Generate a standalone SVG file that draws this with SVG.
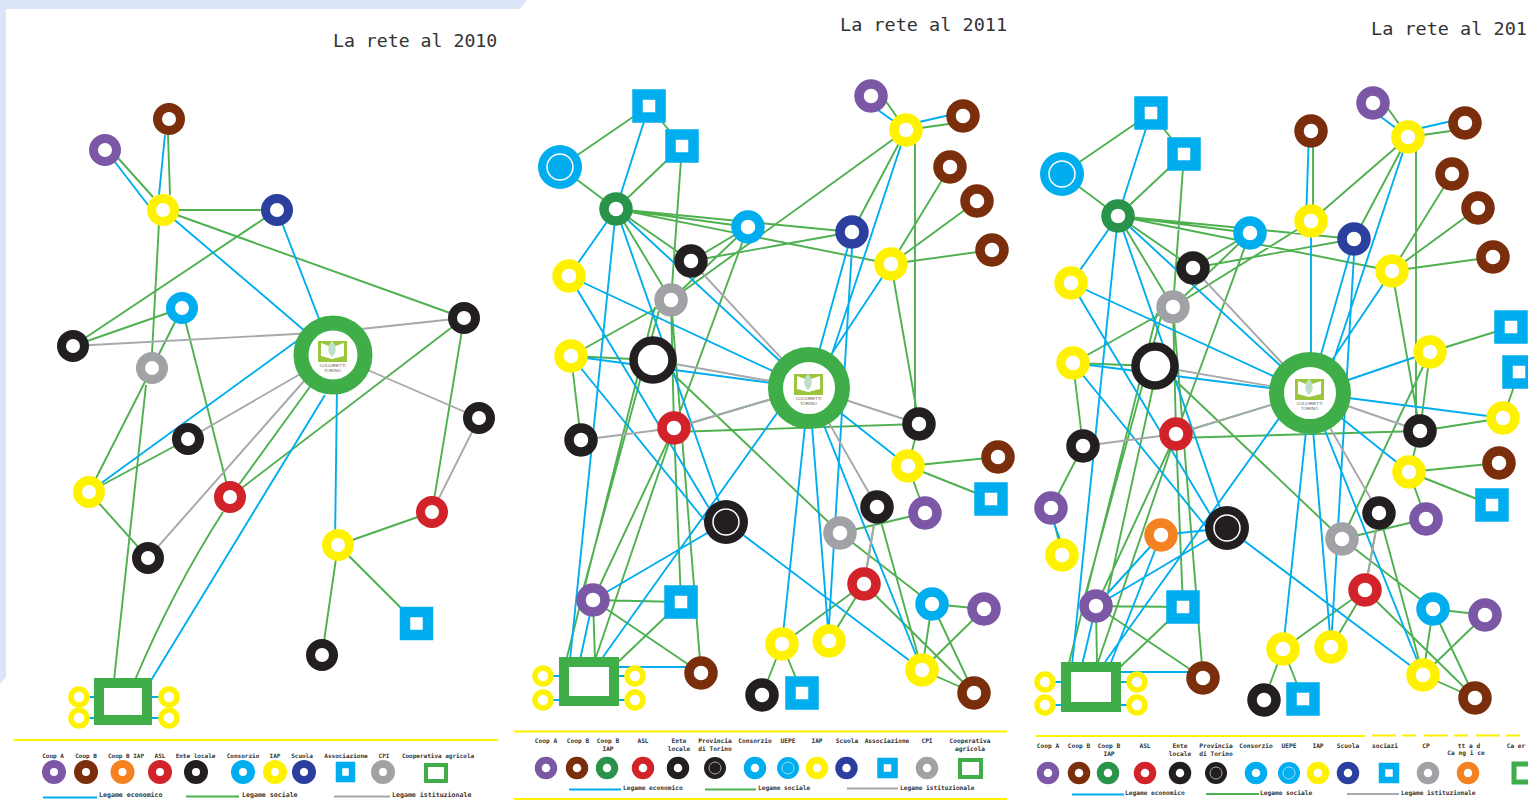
<svg xmlns="http://www.w3.org/2000/svg" xmlns:xlink="http://www.w3.org/1999/xlink" width="1528" height="800" viewBox="0 0 1528 800">
<style>
.g,.b,.h{fill:none;stroke-width:1.9}
.g{stroke:#4fb050}.b{stroke:#00aeef}.h{stroke:#a6a8ab}
.r{fill:#fff;stroke-width:9}
.w{stroke-width:9.5}
.q{stroke-width:8}
.q2{stroke-width:7}
.pu{stroke:#7b57a5}.br{stroke:#7a2e0b}.or{stroke:#f58220}.re{stroke:#d2232a}.bk{stroke:#231f20}.cy{stroke:#00aeef}.ye{stroke:#fff200}.bl{stroke:#2b3f9e}.gy{stroke:#a0a2a5}.di{stroke:#2a934a}
.s{fill:#fff;stroke:#00aeef;stroke-width:10.5}
.s2{fill:#fff;stroke:#00aeef;stroke-width:6.500}
.c{fill:#fff;stroke:#3fae49;stroke-width:10}
.c2{fill:#fff;stroke:#3fae49;stroke-width:4}
.m{fill:#fff;stroke:#fff200;stroke-width:5.5}
.t{font-family:"DejaVu Sans Mono","Liberation Mono",monospace;fill:#333;font-size:18.5px}
.t1{font-size:18.2px}
.l,.e{font-family:"DejaVu Sans Mono","Liberation Mono",monospace;fill:#333;font-size:6.2px;font-weight:bold}
.l{text-anchor:middle}
.l1{font-size:6px}
.e1{font-size:6.6px}
.y{stroke:#fff200;stroke-width:1.8;fill:none}
.k{font-family:"Liberation Sans",sans-serif;font-size:4.4px;fill:#555;text-anchor:middle}
</style>
<defs>
<g id="logo">
<rect x="-15" y="-14" width="29" height="21" fill="#9bc53d"/>
<path d="M-12 -12 L-4 -9 L-1 -14 L2 -9 L11 -12 L11 1 L-1 4 L-12 1Z" fill="#fff"/>
<path d="M-1 -14 C-6 -9 -6 -2 -1 2 C4 -2 4 -9 -1 -14Z" fill="#bfe0c8"/>
<text class="k" x="-0.500" y="11.500">COLDIRETTI</text>
<text class="k" x="-0.500" y="17">TORINO</text>
</g>
</defs>
<rect width="1528" height="800" fill="#fff"/>
<path d="M0 0H527L520 9H6V677L0 684Z" fill="#dae6f8"/>
<text class="t t1" x="333" y="47">La rete al 2010</text>
<text class="t" x="840" y="31">La rete al 2011</text>
<text class="t" x="1371" y="35">La rete al 201</text>

<g id="connectors-2010">
<path class="g" d="M118 158L153 197M168 135L170 195M163 210L277 210M163 210L464 318M277 210L73 346M182 308L73 346M182 308L152 368M182 308L230 497M159 223L152 353M152 368L89 492M146 385L114 680M188 439L89 492M89 492L148 558M333 355L230 497M464 318L230 497M464 318L432 512M338 545L432 512M338 545L322 655M338 545L416 623"/>
<path class="g" d="M223 512Q173 590 135 680"/>
<path class="b" d="M115 162L148 205M165 135L159 195M163 210L333 355M277 210L333 355M305 335L89 492M325 395L150 682M337 385L335 545M79 697H169M79 718H169"/>
<path class="h" d="M73 346L333 332M333 332L464 318M333 355L479 418M333 355L188 439M312 372L148 558M479 418L432 512"/>
</g>
<g id="nodes-2010">
<g id="a1"><circle class="r br" cx="169" cy="119" r="11.500"/></g>
<g id="a2"><circle class="r pu" cx="105" cy="150" r="11.500"/></g>
<g id="a3"><circle class="r ye" cx="163" cy="210" r="11.500"/></g>
<g id="a4"><circle class="r bl" cx="277" cy="210" r="11.500"/></g>
<g id="a5"><circle class="r cy" cx="182" cy="308" r="11.500"/></g>
<g id="a6"><circle class="r bk" cx="73" cy="346" r="11.500"/></g>
<g id="a7"><circle class="r gy" cx="152" cy="368" r="11.500"/></g>
<g id="a8"><circle class="r bk" cx="464" cy="318" r="11.500"/></g>
<g id="a9"><circle class="r bk" cx="479" cy="418" r="11.500"/></g>
<g id="a10"><circle class="r bk" cx="188" cy="439" r="11.500"/></g>
<g id="a11"><circle class="r ye" cx="89" cy="492" r="11.500"/></g>
<g id="a12"><circle class="r re" cx="230" cy="497" r="11.500"/></g>
<g id="a13"><circle class="r bk" cx="148" cy="558" r="11.500"/></g>
<g id="a14"><circle class="r ye" cx="338" cy="545" r="11.500"/></g>
<g id="a15"><circle class="r re" cx="432" cy="512" r="11.500"/></g>
<g id="a16"><rect class="s" x="405" y="612" width="23" height="23"/></g>
<g id="a17"><circle class="r bk" cx="322" cy="655" r="11.500"/></g>
<g id="a18"><circle cx="333" cy="355" r="32" fill="#fff" stroke="#3fae49" stroke-width="15"/><use xlink:href="#logo" href="#logo" x="333" y="355"/></g>
<g id="a19"><rect class="c" x="99" y="683" width="48" height="37"/></g>
<g id="a20"><circle class="m" cx="79" cy="697" r="8"/></g>
<g id="a21"><circle class="m" cx="79" cy="718" r="8"/></g>
<g id="a22"><circle class="m" cx="169" cy="697" r="8"/></g>
<g id="a23"><circle class="m" cx="169" cy="718" r="8"/></g>
</g>

<g id="connectors-2011">
<path class="g" d="M560 167L649 106M560 167L616 209M649 106L682 146M682 146L616 209M682 146L671 300M616 209L748 227M616 209L852 232M616 209L691 261M616 209L671 300M616 209L891 264M691 261L748 227M671 300L748 227M691 261L852 232M906 130L671 300M748 227L674 428M906 130L852 232M950 167L891 264M977 201L891 264M992 250L891 264M915 140L915 424M891 264L919 424M919 424L908 466M908 466L998 457M908 466L991 499M908 466L925 513M571 356L671 300M571 356L653 360M571 356L581 440M660 307L583 590M655 307L567 657M671 300L674 428M671 300L701 673M674 428L681 602M674 428L593 600M674 428L595 660M809 388L674 428M674 432L919 424M653 355L840 533M840 533L925 513M840 533L932 604M864 584L782 644M864 584L829 641M864 584L974 693M877 507L864 584M877 507L922 670M932 604L984 609M932 604L922 670M932 604L974 693M984 609L922 670M922 670L974 693M782 644L762 695M782 644L802 693M593 600L681 602M593 600L701 673M593 600L595 660M681 602L615 665M878 90L906 130M906 130L963 122"/>
<path class="b" d="M649 106L616 209M616 209L569 276M616 209L570 660M616 209L726 522M616 209L809 388M569 276L809 388M569 276L712 513M571 356L809 388M571 356L706 522M790 395L603 657M726 522L593 600M726 522L922 670M593 600L580 660M852 232L809 388M852 248L828 641M906 130L830 360M891 264L809 388M809 388L782 644M809 388L829 641M809 388L908 466M809 388L922 670M606 667H701M871 105L906 130M906 125L963 112M543 676H635M543 700H635"/>
<path class="h" d="M691 261L809 388M653 360L809 388M581 440L674 428M674 428L809 388M809 388L919 424M809 388L877 507M877 507L864 584"/>
</g>
<g id="nodes-2011">
<g id="b1"><rect class="s" x="637.500" y="94.500" width="23" height="23"/></g>
<g id="b2"><rect class="s" x="670.500" y="134.500" width="23" height="23"/></g>
<g id="b3"><circle cx="560" cy="167" r="22" fill="#00aeef"/><circle cx="560" cy="167" r="13" fill="none" stroke="#fff" stroke-width="1.500"/></g>
<g id="b4"><circle class="r w di" cx="616" cy="209" r="12"/></g>
<g id="b5"><circle class="r w ye" cx="569" cy="276" r="12"/></g>
<g id="b6"><circle class="r w cy" cx="748" cy="227" r="12"/></g>
<g id="b7"><circle class="r w bk" cx="691" cy="261" r="12"/></g>
<g id="b8"><circle class="r w gy" cx="671" cy="300" r="12"/></g>
<g id="b9"><circle class="r w bl" cx="852" cy="232" r="12"/></g>
<g id="b10"><circle class="r w pu" cx="871" cy="96" r="12"/></g>
<g id="b11"><circle class="r w ye" cx="906" cy="130" r="12"/></g>
<g id="b12"><circle class="r w br" cx="963" cy="116" r="12"/></g>
<g id="b13"><circle class="r w br" cx="950" cy="167" r="12"/></g>
<g id="b14"><circle class="r w br" cx="977" cy="201" r="12"/></g>
<g id="b15"><circle class="r w br" cx="992" cy="250" r="12"/></g>
<g id="b16"><circle class="r w ye" cx="891" cy="264" r="12"/></g>
<g id="b17"><circle class="r w ye" cx="571" cy="356" r="12"/></g>
<g id="b18"><circle cx="653" cy="360" r="19.500" fill="#fff" stroke="#231f20" stroke-width="8.500"/></g>
<g id="b19"><circle class="r w bk" cx="581" cy="440" r="12"/></g>
<g id="b20"><circle class="r w re" cx="674" cy="428" r="12"/></g>
<g id="b21"><circle class="r w bk" cx="919" cy="424" r="12"/></g>
<g id="b22"><circle class="r w ye" cx="908" cy="466" r="12"/></g>
<g id="b23"><circle class="r w br" cx="998" cy="457" r="12"/></g>
<g id="b24"><rect class="s" x="979.500" y="487.500" width="23" height="23"/></g>
<g id="b25"><circle class="r w pu" cx="925" cy="513" r="12"/></g>
<g id="b26"><circle class="r w bk" cx="877" cy="507" r="12"/></g>
<g id="b27"><circle class="r w gy" cx="840" cy="533" r="12"/></g>
<g id="b28"><circle cx="726" cy="522" r="22" fill="#231f20"/><circle cx="726" cy="522" r="13" fill="none" stroke="#fff" stroke-width="1.500"/></g>
<g id="b29"><circle class="r w re" cx="864" cy="584" r="12"/></g>
<g id="b30"><circle class="r w pu" cx="593" cy="600" r="12"/></g>
<g id="b31"><rect class="s" x="669.500" y="590.500" width="23" height="23"/></g>
<g id="b32"><circle class="r w cy" cx="932" cy="604" r="12"/></g>
<g id="b33"><circle class="r w pu" cx="984" cy="609" r="12"/></g>
<g id="b34"><circle class="r w ye" cx="782" cy="644" r="12"/></g>
<g id="b35"><circle class="r w ye" cx="829" cy="641" r="12"/></g>
<g id="b36"><circle class="r w ye" cx="922" cy="670" r="12"/></g>
<g id="b37"><circle class="r w br" cx="974" cy="693" r="12"/></g>
<g id="b38"><circle class="r w bk" cx="762" cy="695" r="12"/></g>
<g id="b39"><rect class="s" x="790.500" y="681.500" width="23" height="23"/></g>
<g id="b40"><circle class="r w br" cx="701" cy="673" r="12"/></g>
<g id="b41"><circle cx="809" cy="388" r="33.500" fill="#fff" stroke="#3fae49" stroke-width="15"/><use xlink:href="#logo" href="#logo" x="809" y="388"/></g>
<g id="b42"><rect class="c" x="564" y="662" width="50" height="39"/></g>
<g id="b43"><circle class="m" cx="543" cy="676" r="8"/></g>
<g id="b44"><circle class="m" cx="543" cy="700" r="8"/></g>
<g id="b45"><circle class="m" cx="635" cy="676" r="8"/></g>
<g id="b46"><circle class="m" cx="635" cy="700" r="8"/></g>
</g>

<g id="connectors-2012">
<path class="g" d="M1062 174L1151 113M1062 174L1118 216M1151 113L1184 154M1184 154L1118 216M1184 154L1173 307M1118 216L1250 233M1118 216L1354 239M1118 216L1193 268M1118 216L1173 307M1118 216L1392 271M1193 268L1250 233M1173 307L1250 233M1193 268L1354 239M1408 137L1311 221M1311 221L1173 307M1250 233L1176 434M1408 137L1354 239M1452 174L1392 271M1478 208L1392 271M1493 257L1392 271M1416 147L1416 431M1392 271L1420 431M1420 431L1409 472M1409 472L1499 463M1409 472L1492 505M1409 472L1426 519M1073 363L1173 307M1073 363L1155 366M1073 363L1083 446M1162 313L1085 596M1157 313L1069 663M1153 387L1108 592M1173 307L1176 434M1173 307L1203 678M1176 434L1183 607M1176 434L1096 606M1176 434L1097 665M1310 393L1176 434M1176 438L1420 431M1155 361L1342 539M1342 539L1426 519M1342 539L1433 609M1365 590L1283 649M1365 590L1331 647M1365 590L1475 698M1379 513L1365 590M1379 513L1423 675M1433 609L1485 615M1433 609L1423 675M1433 609L1475 698M1485 615L1423 675M1423 675L1475 698M1283 649L1264 700M1283 649L1303 699M1096 606L1183 607M1096 606L1203 678M1096 606L1097 665M1183 607L1117 670M1313 131L1313 221M1430 352L1511 327M1430 352L1420 431M1430 352L1342 539M1420 431L1503 418M1503 418L1519 372M1083 446L1051 508M1051 508L1062 555M1380 97L1408 137M1408 137L1465 129"/>
<path class="b" d="M1151 113L1118 216M1118 216L1071 283M1118 216L1072 665M1118 216L1227 528M1118 216L1310 393M1071 283L1310 393M1071 283L1213 519M1073 363L1310 393M1073 363L1207 528M1290 403L1105 662M1227 528L1096 606M1227 528L1423 675M1096 606L1082 665M1354 239L1310 393M1354 255L1331 647M1408 137L1332 365M1392 271L1310 393M1310 393L1283 649M1310 393L1331 647M1310 393L1409 472M1310 393L1423 675M1110 672H1203M1373 111L1408 137M1408 131L1465 118M1045 682H1137M1045 705H1137M1309 131L1306 221M1311 221L1311 393M1430 352L1310 393M1310 393L1503 418M1048 508L1066 555M1161 535L1227 528M1161 535L1096 606M1161 535L1110 665"/>
<path class="h" d="M1193 268L1310 393M1155 366L1310 393M1083 446L1176 434M1176 434L1310 393M1310 393L1420 431M1310 393L1379 513M1379 513L1365 590"/>
</g>
<g id="nodes-2012">
<g id="c1"><rect class="s" x="1139.500" y="101.500" width="23" height="23"/></g>
<g id="c2"><rect class="s" x="1172.500" y="142.500" width="23" height="23"/></g>
<g id="c3"><circle cx="1062" cy="174" r="22" fill="#00aeef"/><circle cx="1062" cy="174" r="13" fill="none" stroke="#fff" stroke-width="1.500"/></g>
<g id="c4"><circle class="r w di" cx="1118" cy="216" r="12"/></g>
<g id="c5"><circle class="r w ye" cx="1071" cy="283" r="12"/></g>
<g id="c6"><circle class="r w cy" cx="1250" cy="233" r="12"/></g>
<g id="c7"><circle class="r w bk" cx="1193" cy="268" r="12"/></g>
<g id="c8"><circle class="r w gy" cx="1173" cy="307" r="12"/></g>
<g id="c9"><circle class="r w bl" cx="1354" cy="239" r="12"/></g>
<g id="c10"><circle class="r w pu" cx="1373" cy="103" r="12"/></g>
<g id="c11"><circle class="r w ye" cx="1408" cy="137" r="12"/></g>
<g id="c12"><circle class="r w br" cx="1465" cy="123" r="12"/></g>
<g id="c13"><circle class="r w br" cx="1452" cy="174" r="12"/></g>
<g id="c14"><circle class="r w br" cx="1478" cy="208" r="12"/></g>
<g id="c15"><circle class="r w br" cx="1493" cy="257" r="12"/></g>
<g id="c16"><circle class="r w ye" cx="1392" cy="271" r="12"/></g>
<g id="c17"><circle class="r w ye" cx="1073" cy="363" r="12"/></g>
<g id="c18"><circle cx="1155" cy="366" r="19.500" fill="#fff" stroke="#231f20" stroke-width="8.500"/></g>
<g id="c19"><circle class="r w bk" cx="1083" cy="446" r="12"/></g>
<g id="c20"><circle class="r w re" cx="1176" cy="434" r="12"/></g>
<g id="c21"><circle class="r w bk" cx="1420" cy="431" r="12"/></g>
<g id="c22"><circle class="r w ye" cx="1409" cy="472" r="12"/></g>
<g id="c23"><circle class="r w br" cx="1499" cy="463" r="12"/></g>
<g id="c24"><rect class="s" x="1480.500" y="493.500" width="23" height="23"/></g>
<g id="c25"><circle class="r w pu" cx="1426" cy="519" r="12"/></g>
<g id="c26"><circle class="r w bk" cx="1379" cy="513" r="12"/></g>
<g id="c27"><circle class="r w gy" cx="1342" cy="539" r="12"/></g>
<g id="c28"><circle cx="1227" cy="528" r="22" fill="#231f20"/><circle cx="1227" cy="528" r="13" fill="none" stroke="#fff" stroke-width="1.500"/></g>
<g id="c29"><circle class="r w re" cx="1365" cy="590" r="12"/></g>
<g id="c30"><circle class="r w pu" cx="1096" cy="606" r="12"/></g>
<g id="c31"><rect class="s" x="1171.500" y="595.500" width="23" height="23"/></g>
<g id="c32"><circle class="r w cy" cx="1433" cy="609" r="12"/></g>
<g id="c33"><circle class="r w pu" cx="1485" cy="615" r="12"/></g>
<g id="c34"><circle class="r w ye" cx="1283" cy="649" r="12"/></g>
<g id="c35"><circle class="r w ye" cx="1331" cy="647" r="12"/></g>
<g id="c36"><circle class="r w ye" cx="1423" cy="675" r="12"/></g>
<g id="c37"><circle class="r w br" cx="1475" cy="698" r="12"/></g>
<g id="c38"><circle class="r w bk" cx="1264" cy="700" r="12"/></g>
<g id="c39"><rect class="s" x="1291.500" y="687.500" width="23" height="23"/></g>
<g id="c40"><circle class="r w br" cx="1203" cy="678" r="12"/></g>
<g id="c41"><circle class="r w br" cx="1311" cy="131" r="12"/></g>
<g id="c42"><circle class="r w ye" cx="1311" cy="221" r="12"/></g>
<g id="c43"><rect class="s" x="1499.500" y="315.500" width="23" height="23"/></g>
<g id="c44"><rect class="s" x="1507.500" y="360.500" width="23" height="23"/></g>
<g id="c45"><circle class="r w ye" cx="1430" cy="352" r="12"/></g>
<g id="c46"><circle class="r w ye" cx="1503" cy="418" r="12"/></g>
<g id="c47"><circle class="r w pu" cx="1051" cy="508" r="12"/></g>
<g id="c48"><circle class="r w ye" cx="1062" cy="555" r="12"/></g>
<g id="c49"><circle class="r w or" cx="1161" cy="535" r="12"/></g>
<g id="c50"><circle cx="1310" cy="393" r="33.500" fill="#fff" stroke="#3fae49" stroke-width="15"/><use xlink:href="#logo" href="#logo" x="1310" y="393"/></g>
<g id="c51"><rect class="c" x="1066" y="667" width="50" height="40"/></g>
<g id="c52"><circle class="m" cx="1045" cy="682" r="8"/></g>
<g id="c53"><circle class="m" cx="1045" cy="705" r="8"/></g>
<g id="c54"><circle class="m" cx="1137" cy="682" r="8"/></g>
<g id="c55"><circle class="m" cx="1137" cy="705" r="8"/></g>
</g>

<g id="legend-2010">
<path class="y" d="M14 740H498"/>
<text class="l l1" x="53" y="757.500">Coop A</text><text class="l l1" x="86" y="757.500">Coop B</text><text class="l l1" x="126" y="757.500">Coop B IAP</text><text class="l l1" x="160" y="757.500">ASL</text><text class="l l1" x="195.500" y="757.500">Ente locale</text><text class="l l1" x="243" y="757.500">Consorzio</text><text class="l l1" x="275" y="757.500">IAP</text><text class="l l1" x="302" y="757.500">Scuola</text><text class="l l1" x="346" y="757.500">Associazione</text><text class="l l1" x="384" y="757.500">CPI</text><text class="l l1" x="438" y="757.500">Cooperativa agricola</text>
<circle class="r q pu" cx="54" cy="772" r="8"/><circle class="r q br" cx="86" cy="772" r="8"/><circle class="r q or" cx="122.500" cy="772" r="8"/><circle class="r q re" cx="160" cy="772" r="8"/><circle class="r q bk" cx="196" cy="772" r="8"/><circle class="r q cy" cx="243" cy="772" r="8"/><circle class="r q ye" cx="275" cy="772" r="8"/><circle class="r q bl" cx="304" cy="772" r="8"/>
<rect class="s2" x="339" y="765" width="13" height="14"/>
<circle class="r q gy" cx="383" cy="772" r="8"/>
<rect class="c2" x="426" y="765" width="20" height="16"/>
<path class="b" d="M43 797.500H97"/><text class="e e1" x="99" y="796.700">Legame economico</text>
<path class="g" d="M186 796.500H239"/><text class="e e1" x="242" y="796.700">Legame sociale</text>
<path class="h" d="M334 796.500H390"/><text class="e e1" x="392" y="796.700">Legame istituzionale</text>
</g>

<g id="legend-2011">
<path class="y" d="M514 731.500H1007M514 799H1007"/>
<text class="l" x="546" y="743">Coop A</text><text class="l" x="578" y="743">Coop B</text><text class="l" x="608" y="743">Coop B</text><text class="l" x="608" y="751">IAP</text><text class="l" x="643" y="743">ASL</text><text class="l" x="679" y="743">Ente</text><text class="l" x="679" y="751">locale</text><text class="l" x="715" y="743">Provincia</text><text class="l" x="715" y="751">di Torino</text><text class="l" x="755" y="743">Consorzio</text><text class="l" x="788" y="743">UEPE</text><text class="l" x="817" y="743">IAP</text><text class="l" x="847" y="743">Scuola</text><text class="l" x="887" y="743">Associazione</text><text class="l" x="927" y="743">CPI</text><text class="l" x="970" y="743">Cooperativa</text><text class="l" x="970" y="751">agricola</text>
<circle class="r q2 pu" cx="546" cy="768" r="7.750"/><circle class="r q2 br" cx="577" cy="768" r="7.750"/><circle class="r q2 di" cx="607" cy="768" r="7.750"/><circle class="r q2 re" cx="643" cy="768" r="7.750"/><circle class="r q2 bk" cx="678" cy="768" r="7.750"/>
<circle cx="715" cy="768" r="11" fill="#231f20"/><circle cx="715" cy="768" r="6" fill="none" stroke="#a6a8ab" stroke-width="1"/>
<circle class="r q2 cy" cx="755" cy="768" r="7.750"/>
<circle cx="788" cy="768" r="11" fill="#00aeef"/><circle cx="788" cy="768" r="6" fill="none" stroke="#9fdcf5" stroke-width="1"/>
<circle class="r q2 ye" cx="817" cy="768" r="7.750"/><circle class="r q2 bl" cx="846.500" cy="768" r="7.750"/>
<rect class="s2" x="880.500" y="761" width="14" height="14"/>
<circle class="r q2 gy" cx="927" cy="768" r="7.750"/>
<rect class="c2" x="960" y="760" width="21" height="17"/>
<path class="b" d="M569 789.500H621"/><text class="e" x="623" y="790">Legame economico</text>
<path class="g" d="M705 789.500H756"/><text class="e" x="758" y="790">Legame sociale</text>
<path class="h" d="M847 788.500H898"/><text class="e" x="900" y="790">Legame istituzionale</text>
</g>

<g id="legend-2012">
<path class="y" d="M1036 736H1365"/>
<path class="y" d="M1372 735.500H1528" stroke-dasharray="24 6 14 8"/>
<text class="l" x="1048" y="748">Coop A</text><text class="l" x="1079" y="748">Coop B</text><text class="l" x="1109" y="748">Coop B</text><text class="l" x="1109" y="756">IAP</text><text class="l" x="1145" y="748">ASL</text><text class="l" x="1180" y="748">Ente</text><text class="l" x="1180" y="756">locale</text><text class="l" x="1216" y="748">Provincia</text><text class="l" x="1216" y="756">di Torino</text><text class="l" x="1256" y="748">Consorzio</text><text class="l" x="1289" y="748">UEPE</text><text class="l" x="1318" y="748">IAP</text><text class="l" x="1348" y="748">Scuola</text><text class="l" x="1385" y="748">sociazi</text><text class="l" x="1426" y="748">CP</text><text class="l" x="1469" y="748">tt a d</text><text class="l" x="1466" y="755">Ca ng i ce</text><text class="l" x="1516" y="748">Ca er</text>
<circle class="r q2 pu" cx="1048" cy="773" r="7.750"/><circle class="r q2 br" cx="1079" cy="773" r="7.750"/><circle class="r q2 di" cx="1108" cy="773" r="7.750"/><circle class="r q2 re" cx="1145" cy="773" r="7.750"/><circle class="r q2 bk" cx="1180" cy="773" r="7.750"/>
<circle cx="1216" cy="773" r="11" fill="#231f20"/><circle cx="1216" cy="773" r="6" fill="none" stroke="#a6a8ab" stroke-width="1"/>
<circle class="r q2 cy" cx="1256" cy="773" r="7.750"/>
<circle cx="1289" cy="773" r="11" fill="#00aeef"/><circle cx="1289" cy="773" r="6" fill="none" stroke="#9fdcf5" stroke-width="1"/>
<circle class="r q2 ye" cx="1318" cy="773" r="7.750"/><circle class="r q2 bl" cx="1348" cy="773" r="7.750"/>
<rect class="s2" x="1382" y="766" width="14" height="14"/>
<circle class="r q2 gy" cx="1428" cy="773" r="7.750"/>
<circle class="r q2 or" cx="1468" cy="773" r="7.750"/>
<rect class="c2" x="1514" y="764" width="21" height="18" style="stroke-width:5"/>
<path class="b" d="M1072 794.500H1124"/><text class="e" x="1125" y="795">Legame economico</text>
<path class="g" d="M1206 794H1259"/><text class="e" x="1260" y="795">Legame sociale</text>
<path class="h" d="M1347 794H1399"/><text class="e" x="1401" y="795">Legame istituzionale</text>
</g>
</svg>
